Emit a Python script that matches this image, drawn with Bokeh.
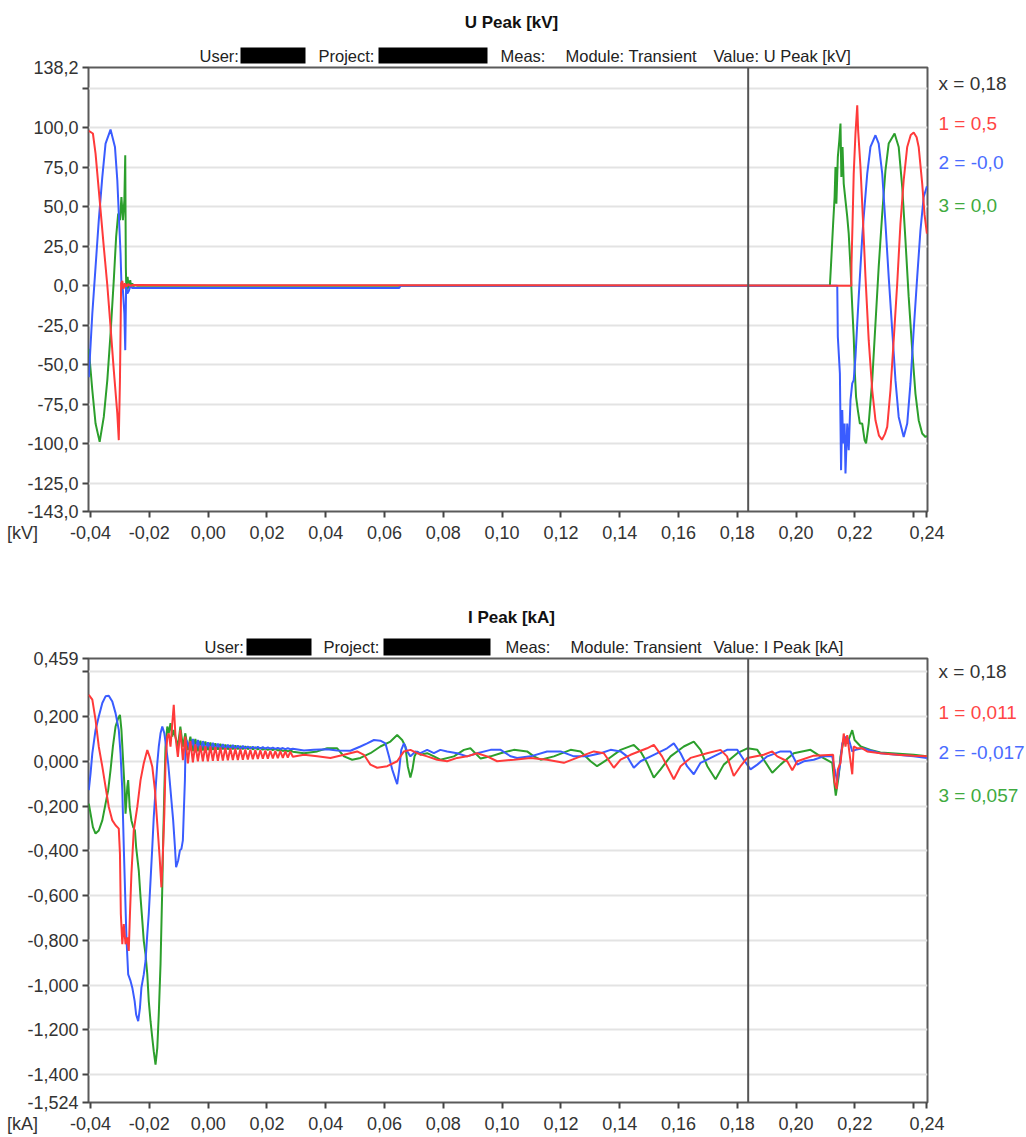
from bokeh.plotting import figure
from bokeh.models import Span, FixedTicker, GridBox, Range1d
from bokeh.layouts import column
from bokeh.core.properties import value
from bokeh.embed import file_html
from bokeh.resources import INLINE

# ---------------- data ----------------
X_START, X_END = -0.0407, 0.2447
X_TICKS = [-0.04, -0.02, 0.0, 0.02, 0.04, 0.06, 0.08, 0.10, 0.12, 0.14, 0.16, 0.18, 0.20, 0.22, 0.24, 0.2445]
X_TICK_LABELS = ["-0,04", "-0,02", "0,00", "0,02", "0,04", "0,06", "0,08", "0,10", "0,12", "0,14",
                 "0,16", "0,18", "0,20", "0,22", "", "0,24"]
CURSOR_T = 0.1837

U_Y_RANGE = (-143.0, 138.2)
U_Y_TICKS = [-143.0, -125.0, -100.0, -75.0, -50.0, -25.0, 0.0, 25.0, 50.0, 75.0, 100.0, 125.0, 138.2]
U_Y_LABELS = ["-143,0", "-125,0", "-100,0", "-75,0", "-50,0", "-25,0", "0,0", "25,0", "50,0", "75,0",
              "100,0", "", "138,2"]
I_Y_RANGE = (-1.524, 0.459)
I_Y_TICKS = [-1.524, -1.4, -1.2, -1.0, -0.8, -0.6, -0.4, -0.2, 0.0, 0.2, 0.4, 0.459]
I_Y_LABELS = ["-1,524", "-1,400", "-1,200", "-1,000", "-0,800", "-0,600", "-0,400", "-0,200",
              "0,000", "0,200", "", "0,459"]

U_TITLE, U_VALUE, U_UNIT = "U Peak [kV]", "Value: U Peak [kV]", "[kV]"
I_TITLE, I_VALUE, I_UNIT = "I Peak [kA]", "Value: I Peak [kA]", "[kA]"
U_LEGEND = ["x = 0,18", "1 = 0,5", "2 = -0,0", "3 = 0,0"]
I_LEGEND = ["x = 0,18", "1 = 0,011", "2 = -0,017", "3 = 0,057"]

# U Peak [kV] - phase 1 (red)
U1_T = [-0.0406, -0.0392, -0.0383, -0.0372, -0.0363, -0.0355, -0.0343, -0.0332, -0.0321, -0.0309,
        -0.0304, -0.0300, -0.0296, -0.0292, -0.0288, -0.0283, -0.0278, -0.0272, -0.0265, -0.0255,
        0.0, 0.1, 0.2188, 0.21885, 0.2192, 0.2196, 0.2202, 0.2208, 0.2211, 0.2219,
        0.2227, 0.2236, 0.2247, 0.2259, 0.2270, 0.2282, 0.2292, 0.2302, 0.2310, 0.2321,
        0.2332, 0.2344, 0.2355, 0.2366, 0.2378, 0.2390, 0.2400, 0.2410, 0.2417, 0.2429,
        0.2437, 0.2445]
U1_V = [98.0, 96.4, 83.7, 60.5, 41.5, 24.6, 0.3, -26.1, -53.5, -81.0,
        -97.8, -59.8, 1.4, 3.0, -2.0, 1.5, -0.5, 1.0, 0.0, 0.5,
        0.3, 0.3, 0.0, 14.0, 39.4, 71.0, 96.4, 114.3, 98.5, 75.2,
        43.6, 5.6, -34.5, -66.2, -85.2, -95.0, -97.5, -94.0, -89.4, -66.2,
        -34.5, 1.4, 39.4, 66.8, 87.9, 95.5, 97.0, 94.0, 87.9, 64.7,
        45.0, 33.0]
# phase 2 (blue)
U2_T = [-0.0406, -0.0394, -0.0383, -0.0372, -0.0360, -0.0349, -0.0332, -0.0317, -0.0309, -0.0304,
        -0.0298, -0.0295, -0.0290, -0.0285, -0.0282, -0.0279, -0.0275, -0.0270, -0.0265, -0.0258,
        0.065, 0.0655, 0.2140, 0.2142, 0.2149, 0.2151, 0.2153, 0.2157, 0.2160, 0.2165,
        0.2168, 0.2174, 0.2179, 0.2185, 0.2191, 0.2196, 0.2202, 0.2208, 0.2213, 0.2219,
        0.2225, 0.2230, 0.2242, 0.2253, 0.2270, 0.2281, 0.2293, 0.2304, 0.2315, 0.2327,
        0.2338, 0.2349, 0.2366, 0.2378, 0.2389, 0.2400, 0.2412, 0.2423, 0.2434, 0.2445]
U2_V = [-58.0, -17.6, 11.9, 41.5, 68.9, 90.0, 98.9, 87.9, 66.8, 45.7,
        20.4, 1.4, -2.8, -17.6, -40.8, -0.8, -5.0, -3.3, -0.5, -1.5,
        -1.5, 0.0, 0.0, -32.4, -55.6, -87.3, -116.8, -78.8, -99.9, -87.3,
        -118.9, -87.3, -104.2, -72.5, -61.9, -59.8, -45.1, -23.9, -7.1, 11.9,
        30.9, 43.6, 71.0, 87.9, 95.3, 90.0, 71.0, 39.4, 5.6, -28.2,
        -59.8, -83.1, -95.8, -87.3, -61.9, -28.2, 5.6, 35.1, 56.2, 63.0]
# phase 3 (green)
U3_T = [-0.0406, -0.0394, -0.0383, -0.0369, -0.0355, -0.0343, -0.0332, -0.0321, -0.0313, -0.0306,
        -0.0300, -0.0295, -0.0290, -0.0285, -0.0282, -0.0280, -0.0278, -0.0274, -0.0270, -0.0265,
        -0.0262, -0.0258, -0.0254, -0.0250, -0.0240, 0.2115, 0.2119, 0.2126, 0.2131, 0.2134,
        0.2137, 0.2142, 0.2147, 0.2151, 0.2154, 0.2158, 0.2162, 0.2168, 0.2174, 0.2179,
        0.2185, 0.2191, 0.2196, 0.2200, 0.2204, 0.2210, 0.2217, 0.2225, 0.2233, 0.2238,
        0.2247, 0.2259, 0.2270, 0.2281, 0.2293, 0.2304, 0.2315, 0.2335, 0.2349, 0.2361,
        0.2372, 0.2383, 0.2395, 0.2406, 0.2417, 0.2429, 0.2440, 0.2445]
U3_V = [-40.0, -66.2, -87.3, -98.9, -83.1, -59.8, -30.3, 3.5, 30.9, 45.7,
        41.5, 56.2, 41.5, 54.1, 82.6, 11.9, -5.0, 5.6, -1.8, 3.5,
        -1.0, 1.5, -0.5, 0.5, 0.0, 0.0, 14.0, 39.4, 56.2, 75.2,
        52.0, 81.6, 92.1, 102.7, 68.9, 87.9, 64.7, 54.1, 43.6, 33.0,
        11.9, -13.4, -32.4, -55.6, -70.4, -78.8, -87.3, -87.3, -97.8, -99.9,
        -87.3, -59.8, -23.9, 11.9, 45.7, 73.1, 90.0, 96.4, 87.9, 62.6,
        28.8, -7.1, -40.8, -68.3, -85.2, -93.6, -95.8, -95.0]

# I Peak [kA] - shared sample instants of the ringing after the fault
RING_T = [-0.0103, -0.00945, -0.0086, -0.00775, -0.0069, -0.00605, -0.0052, -0.00435, -0.0035, -0.00265,
          -0.0018, -0.00095, -0.0001, 0.00075, 0.0016, 0.00245, 0.0033, 0.00415, 0.005, 0.00585,
          0.0067, 0.00755, 0.0084, 0.00925, 0.0101, 0.01095, 0.0118, 0.01265, 0.0135, 0.01435,
          0.0152, 0.01605, 0.0169, 0.01775, 0.0186, 0.01945, 0.0203, 0.02115, 0.022, 0.02285,
          0.0237, 0.02455, 0.0254, 0.02625, 0.0271, 0.02795, 0.0288]

# phase 1 (red)
I1_T_PRE = [-0.0406, -0.0394, -0.0383, -0.0372, -0.0360, -0.0349, -0.0338, -0.0326, -0.0315, -0.0304,
            -0.0300, -0.0297, -0.0292, -0.0287, -0.0281, -0.0275, -0.0270, -0.0266, -0.0261, -0.0253,
            -0.0241, -0.0230, -0.0219, -0.0207, -0.0199, -0.0190, -0.0181, -0.0173, -0.0165, -0.0159,
            -0.0154, -0.0149, -0.0145, -0.0139, -0.0134, -0.0128, -0.0122, -0.0117, -0.0111]
I1_V_PRE = [0.297, 0.275, 0.185, 0.065, -0.024, -0.114, -0.204, -0.264, -0.286, -0.301,
            -0.413, -0.682, -0.817, -0.727, -0.817, -0.787, -0.847, -0.682, -0.503, -0.308,
            -0.204, -0.084, -0.009, 0.05, 0.02, -0.024, -0.129, -0.279, -0.428, -0.563,
            -0.413, -0.234, -0.009, 0.11, 0.125, 0.065, 0.17, 0.252, 0.11]
I1_V_RING = [0.02, 0.14, 0.005, 0.11, -0.01, 0.09, -0.005, 0.075, 0.0, 0.07,
             0.0, 0.068, 0.0, 0.066, 0.002, 0.064, 0.002, 0.062, 0.003, 0.06,
             0.004, 0.058, 0.005, 0.056, 0.006, 0.055, 0.007, 0.053, 0.008, 0.052,
             0.009, 0.05, 0.01, 0.049, 0.011, 0.048, 0.012, 0.047, 0.013, 0.046,
             0.014, 0.045, 0.015, 0.044, 0.016, 0.043, 0.02]
I1_T_POST = [0.0326, 0.0371, 0.0416, 0.0462, 0.0507, 0.0530, 0.0552, 0.0575, 0.0609, 0.0643,
             0.0666, 0.0688, 0.0711, 0.0745, 0.0779, 0.0813, 0.0847, 0.0881, 0.0915, 0.0949,
             0.0983, 0.1040, 0.1097, 0.1153, 0.1210, 0.1267, 0.1312, 0.1346, 0.1380, 0.1403,
             0.1437, 0.1493, 0.1516, 0.1544, 0.1584, 0.1607, 0.1641, 0.1697, 0.1743, 0.1765,
             0.1788, 0.1811, 0.1834, 0.1890, 0.1919, 0.1936, 0.1970, 0.1987, 0.2004, 0.2060,
             0.2126, 0.2131, 0.2138, 0.2142, 0.2151, 0.2162, 0.2168, 0.2174, 0.2183, 0.2191,
             0.2196, 0.2208, 0.2225, 0.2242, 0.2287, 0.2344, 0.2400, 0.2445]
I1_V_POST = [0.029, 0.022, 0.015, 0.029, 0.044, 0.029, -0.015, -0.029, -0.022, 0.0,
             0.044, 0.051, 0.036, 0.022, 0.007, 0.0, 0.015, 0.022, 0.036, 0.022,
             0.0, 0.007, 0.015, 0.007, -0.007, 0.022, 0.044, 0.036, -0.029, 0.007,
             0.029, 0.058, 0.073, 0.022, -0.08, -0.022, 0.015, 0.036, 0.051, 0.022,
             -0.066, -0.022, 0.015, 0.029, 0.044, 0.022, 0.0, -0.04, 0.0, 0.025,
             0.029, -0.095, -0.124, -0.036, -0.007, 0.124, 0.066, 0.117, 0.022, -0.058,
             0.066, 0.058, 0.058, 0.044, 0.036, 0.029, 0.025, 0.022]

# phase 2 (blue)
I2_T_PRE = [-0.0406, -0.0400, -0.0394, -0.0383, -0.0372, -0.0360, -0.0349, -0.0338, -0.0326, -0.0315,
            -0.0304, -0.0298, -0.0292, -0.0287, -0.0281, -0.0278, -0.0272, -0.0264, -0.0258, -0.0250,
            -0.0245, -0.0238, -0.0232, -0.0227, -0.0219, -0.0213, -0.0207, -0.0202, -0.0196, -0.0190,
            -0.0185, -0.0179, -0.0173, -0.0168, -0.0162, -0.0156, -0.0149, -0.0143, -0.0136, -0.0130,
            -0.0125, -0.0119, -0.0113, -0.0109, -0.0102, -0.0096, -0.0091, -0.0086, -0.0083, -0.0079,
            -0.0077, -0.0074]
I2_V_PRE = [-0.129, -0.054, 0.035, 0.14, 0.2, 0.26, 0.29, 0.293, 0.267, 0.215,
            0.14, 0.035, -0.129, -0.383, -0.652, -0.787, -0.952, -0.981, -1.011, -1.071,
            -1.131, -1.161, -1.101, -1.011, -0.952, -0.892, -0.772, -0.682, -0.533, -0.383,
            -0.249, -0.129, -0.009, 0.065, 0.125, 0.155, 0.125, 0.065, -0.009, -0.099,
            -0.174, -0.264, -0.383, -0.473, -0.443, -0.398, -0.391, -0.353, -0.234, -0.084,
            0.065, 0.095]
I2_RING_FROM = 5
I2_V_RING = [0.05, 0.1, 0.04, 0.095, 0.045, 0.09, 0.048, 0.085, 0.05, 0.082,
             0.052, 0.079, 0.053, 0.076, 0.054, 0.074, 0.055, 0.072, 0.056, 0.07,
             0.056, 0.068, 0.057, 0.066, 0.057, 0.065, 0.057, 0.064, 0.057, 0.063,
             0.056, 0.062, 0.056, 0.061, 0.055, 0.06, 0.055, 0.059, 0.054, 0.058,
             0.054, 0.056]
I2_T_POST = [0.0326, 0.0359, 0.0405, 0.0439, 0.0484, 0.0518, 0.0541, 0.0564, 0.0586, 0.0603,
             0.0615, 0.0626, 0.0637, 0.0643, 0.0650, 0.0657, 0.0666, 0.0677, 0.0688, 0.0705,
             0.0722, 0.0745, 0.0768, 0.0790, 0.0813, 0.0847, 0.0881, 0.0915, 0.0961, 0.0995,
             0.1029, 0.1051, 0.1097, 0.1153, 0.1199, 0.1244, 0.1289, 0.1335, 0.1369, 0.1403,
             0.1425, 0.1448, 0.1471, 0.1516, 0.1561, 0.1584, 0.1607, 0.1629, 0.1652, 0.1675,
             0.1720, 0.1765, 0.1800, 0.1822, 0.1845, 0.1868, 0.1902, 0.1947, 0.1981, 0.2004,
             0.2026, 0.2060, 0.2094, 0.2123, 0.2131, 0.2140, 0.2149, 0.2157, 0.2168, 0.2180,
             0.2191, 0.2202, 0.2225, 0.2287, 0.2400, 0.2445]
I2_V_POST = [0.048, 0.051, 0.054, 0.048, 0.047, 0.066, 0.08, 0.095, 0.092, 0.08,
             0.022, -0.036, -0.08, -0.102, -0.036, 0.051, 0.08, 0.044, 0.022, 0.044,
             0.036, 0.051, 0.036, 0.051, 0.044, 0.036, 0.022, 0.036, 0.051, 0.051,
             0.022, 0.015, 0.022, 0.044, 0.044, 0.022, 0.022, 0.036, 0.051, 0.044,
             0.022, -0.029, 0.0, 0.029, 0.058, 0.08, 0.036, -0.022, -0.058, -0.007,
             0.022, 0.051, 0.051, 0.007, -0.036, -0.015, 0.022, 0.044, 0.044, -0.015,
             0.0, 0.007, 0.022, 0.022, -0.036, -0.088, -0.022, 0.08, 0.109, 0.095,
             0.044, 0.051, 0.058, 0.036, 0.022, 0.015]

# phase 3 (green)
I3_T_PRE = [-0.0406, -0.0400, -0.0392, -0.0383, -0.0372, -0.0360, -0.0349, -0.0340, -0.0332, -0.0324,
            -0.0315, -0.0306, -0.0300, -0.0295, -0.0290, -0.0284, -0.0281, -0.0275, -0.0272, -0.0267,
            -0.0261, -0.0255, -0.0249, -0.0245, -0.0236, -0.0230, -0.0224, -0.0219, -0.0213, -0.0207,
            -0.0202, -0.0196, -0.0190, -0.0185, -0.0179, -0.0173, -0.0168, -0.0162, -0.0156, -0.0153,
            -0.0149, -0.0145, -0.0139, -0.0134, -0.0128, -0.0122, -0.0117]
I3_V_PRE = [-0.189, -0.234, -0.294, -0.323, -0.309, -0.264, -0.189, -0.129, -0.039, 0.065,
            0.155, 0.192, 0.207, 0.14, 0.02, -0.129, -0.234, -0.114, -0.084, -0.204,
            -0.264, -0.294, -0.309, -0.383, -0.488, -0.608, -0.712, -0.802, -0.862, -0.952,
            -1.071, -1.161, -1.236, -1.296, -1.355, -1.28, -1.131, -0.907, -0.563, -0.353,
            -0.129, 0.065, 0.155, 0.125, 0.17, 0.11, 0.14]
I3_V_RING = [0.065, 0.155, 0.065, 0.125, 0.05, 0.11, 0.045, 0.1, 0.045, 0.092,
             0.048, 0.088, 0.05, 0.084, 0.051, 0.08, 0.052, 0.077, 0.053, 0.074,
             0.053, 0.072, 0.054, 0.07, 0.054, 0.068, 0.054, 0.066, 0.054, 0.064,
             0.053, 0.062, 0.053, 0.06, 0.052, 0.058, 0.051, 0.056, 0.05, 0.055,
             0.048, 0.052, 0.046, 0.05, 0.044, 0.048, 0.043]
I3_T_POST = [0.0326, 0.0371, 0.0405, 0.0439, 0.0462, 0.0490, 0.0518, 0.0552, 0.0586, 0.0620,
             0.0643, 0.0660, 0.0671, 0.0679, 0.0688, 0.0695, 0.0702, 0.0711, 0.0722, 0.0745,
             0.0768, 0.0790, 0.0836, 0.0870, 0.0892, 0.0927, 0.0961, 0.0995, 0.1040, 0.1085,
             0.1108, 0.1131, 0.1176, 0.1233, 0.1267, 0.1301, 0.1323, 0.1357, 0.1403, 0.1448,
             0.1471, 0.1493, 0.1516, 0.1539, 0.1573, 0.1618, 0.1652, 0.1675, 0.1698, 0.1726,
             0.1754, 0.1800, 0.1834, 0.1868, 0.1890, 0.1919, 0.1947, 0.1992, 0.2049, 0.2083,
             0.2123, 0.2131, 0.2135, 0.2145, 0.2151, 0.2162, 0.2174, 0.2191, 0.2199, 0.2220,
             0.2253, 0.2287, 0.2400, 0.2445]
I3_V_POST = [0.036, 0.044, 0.058, 0.058, 0.022, 0.007, 0.015, 0.036, 0.066, 0.088,
             0.117, 0.095, 0.066, -0.022, -0.073, -0.036, 0.022, 0.044, 0.029, 0.036,
             0.022, 0.007, 0.022, 0.051, 0.058, 0.012, 0.022, 0.036, 0.051, 0.044,
             0.022, 0.007, 0.022, 0.051, 0.044, 0.0, -0.022, 0.007, 0.051, 0.073,
             0.044, -0.007, -0.073, -0.036, 0.022, 0.066, 0.088, 0.051, -0.022, -0.08,
             -0.015, 0.036, 0.058, 0.051, 0.007, -0.051, -0.015, 0.036, 0.051, 0.022,
             -0.007, -0.109, -0.153, -0.066, 0.022, 0.095, 0.08, 0.139, 0.095, 0.066,
             0.051, 0.039, 0.029, 0.022]

# ---------------- styling / layout ----------------
FONT = "Liberation Sans"
C_RED, C_BLUE, C_GREEN = "#ff3a3a", "#3a5cff", "#2c9f2c"
T_RED, T_BLUE, T_GREEN, T_GRAY = "#ff4545", "#4a6cff", "#40aa40", "#333333"
CANVAS_W, CANVAS_H = 1026, 1137
FL, FW, FH = 88, 839, 444


def seg(ts, vs):
    pairs = list(zip(ts, vs))
    return [a for a, _ in pairs], [b for _, b in pairs]


def make_fig(y_range, y_ticks, y_labels, top_border, bottom_border):
    p = figure(frame_width=FW, frame_height=FH, x_range=(X_START, X_END), y_range=y_range,
               output_backend="svg", toolbar_location=None, title=None,
               min_border_left=FL, min_border_right=CANVAS_W - FL - FW,
               min_border_top=top_border, min_border_bottom=bottom_border,
               background_fill_color="white", border_fill_color="white")
    p.xaxis.ticker = FixedTicker(ticks=X_TICKS)
    p.xaxis.major_label_overrides = {t: l for t, l in zip(X_TICKS, X_TICK_LABELS)}
    p.yaxis.ticker = FixedTicker(ticks=y_ticks)
    p.yaxis.major_label_overrides = {t: l for t, l in zip(y_ticks, y_labels)}
    for ax in (p.xaxis[0], p.yaxis[0]):
        ax.axis_line_color = None
        ax.major_tick_line_color = "#444444"
        ax.major_tick_line_width = 2
        ax.major_tick_out = 6
        ax.major_tick_in = 0
        ax.minor_tick_line_color = None
        ax.major_label_text_font = FONT
        ax.major_label_text_font_size = "18px"
        ax.major_label_text_color = "#333333"
    p.yaxis.major_label_standoff = 4
    p.xaxis.major_label_standoff = 8
    p.xgrid.visible = False
    p.ygrid.ticker = FixedTicker(ticks=y_ticks[1:-1])
    p.ygrid.grid_line_color = "#e3e3e3"
    p.ygrid.grid_line_width = 2
    p.outline_line_color = "#5a5a5a"
    p.outline_line_width = 2
    p.add_layout(Span(location=CURSOR_T, dimension="height", line_color="#555555", line_width=2))
    return p


# ---- top: U Peak ----
p1 = make_fig(U_Y_RANGE, U_Y_TICKS, U_Y_LABELS, 67, 64)
for (t, v), c in zip([(U3_T, U3_V), (U2_T, U2_V), (U1_T, U1_V)], [C_GREEN, C_BLUE, C_RED]):
    xs, ys = seg(t, v)
    p1.line(xs, ys, line_color=c, line_width=2)

# ---- bottom: I Peak ----
p2 = make_fig(I_Y_RANGE, I_Y_TICKS, I_Y_LABELS, 83, 35)
rt1, rv1 = seg(RING_T, I1_V_RING)
rt2, rv2 = seg(RING_T[I2_RING_FROM:], I2_V_RING)
rt3, rv3 = seg(RING_T, I3_V_RING)
series = [
    (I3_T_PRE + rt3 + I3_T_POST, I3_V_PRE + rv3 + I3_V_POST, C_GREEN),
    (I2_T_PRE + rt2 + I2_T_POST, I2_V_PRE + rv2 + I2_V_POST, C_BLUE),
    (I1_T_PRE + rt1 + I1_T_POST, I1_V_PRE + rv1 + I1_V_POST, C_RED),
]
for t, v, c in series:
    xs, ys = seg(t, v)
    p2.line(xs, ys, line_color=c, line_width=2)

plots = column(p1, p2, spacing=0)

# ---- transparent overlay carrying the header, cursor read-outs and unit texts (page pixels) ----
ov = figure(width=CANVAS_W, height=CANVAS_H, x_range=Range1d(0, CANVAS_W), y_range=Range1d(CANVAS_H, 0),
            output_backend="svg", toolbar_location=None, title=None,
            x_axis_location=None, y_axis_location=None, min_border=0,
            background_fill_alpha=0, border_fill_alpha=0, outline_line_color=None)
ov.grid.visible = False

PANELS = [
    # title, value text, legend, unit, title y, subtitle y, box top/bottom, subtitle xs, boxes, legend ys, unit y
    (U_TITLE, U_VALUE, U_LEGEND, U_UNIT, 22, 55, (47, 63), [199, 318, 500, 565, 713],
     [(240, 305), (378, 487)], [83, 123, 162, 205], 532),
    (I_TITLE, I_VALUE, I_LEGEND, I_UNIT, 617, 646, (638, 655), [204, 323, 505, 570, 713],
     [(246, 311), (383, 490)], [671, 712, 752, 795], 1123),
]
for title, val, legend, unit, ty, sy, (bt, bb), sx, boxes, lys, uy in PANELS:
    ov.text(x=[511], y=[ty], text=[title], text_font=value(FONT), text_font_size="17px",
            text_font_style="bold", text_color="#111111", text_align="center", text_baseline="middle")
    ov.text(x=sx, y=[sy] * 5, text=["User:", "Project:", "Meas:", "Module: Transient", val],
            text_font=value(FONT), text_font_size="16.5px", text_color="#222222",
            text_align="left", text_baseline="middle")
    ov.quad(left=[b[0] for b in boxes], right=[b[1] for b in boxes], top=[bt] * 2,
            bottom=[bb] * 2, fill_color="black", line_color=None)
    ov.text(x=[938] * 4, y=lys, text=legend,
            text_color=[T_GRAY, T_RED, T_BLUE, T_GREEN], text_font=value(FONT),
            text_font_size="19px", text_align="left", text_baseline="middle")
    ov.text(x=[22], y=[uy], text=[unit], text_font=value(FONT), text_font_size="18px",
            text_color="#333333", text_align="center", text_baseline="middle")

layout = GridBox(children=[(plots, 0, 0), (ov, 0, 0)])
open("out.html", "w").write(file_html(layout, INLINE))
